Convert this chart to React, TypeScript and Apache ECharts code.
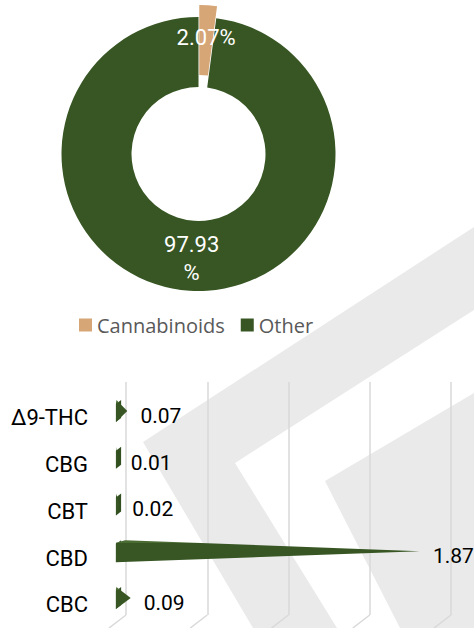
import React, { useEffect, useRef } from "react";
import * as echarts from "echarts";

const pieNames = ["Cannabinoids", "Other"];
const pieValues = [2.07, 97.93];
const pieColors = ["#d6a676", "#375623"];

const categories = ["Δ9-THC", "CBG", "CBT", "CBD", "CBC"];
const values = [0.07, 0.01, 0.02, 1.87, 0.09];

const axisMin = 0;
const axisMax = 2;
const axisInterval = 0.5;

export default function App() {
  const ref = useRef<HTMLDivElement>(null);

  useEffect(() => {
    document.body.style.margin = "0";
    if (!ref.current) return;
    const chart = echarts.init(ref.current, undefined, { renderer: "svg" });
    const green = "#375623";
    const option: any = {
      animation: false,
      backgroundColor: "#ffffff",
      graphic: [
        {
          id: "wm1",
          type: "polygon",
          z: -10,
          silent: true,
          shape: {
            points: [
              [143, 442],
              [474, 227],
              [474, 310],
              [235, 463],
              [337, 628],
              [253, 628],
            ],
          },
          style: { fill: "#eaeaea" },
        },
        {
          id: "wm2",
          type: "polygon",
          z: -10,
          silent: true,
          shape: {
            points: [
              [325, 481],
              [474, 393],
              [474, 628],
              [400, 628],
            ],
          },
          style: { fill: "#eaeaea" },
        },
      ],
      legend: {
        data: pieNames,
        left: 74,
        top: 310,
        icon: "rect",
        itemWidth: 13,
        itemHeight: 13,
        itemGap: 16,
        textStyle: { fontFamily: "Open Sans", fontSize: 20, color: "#595959" },
        selectedMode: false,
      },
      grid: [
        { left: 126, top: 382, width: 325, height: 233 },
        { left: 116, top: 387.6, width: 325, height: 233.75 },
      ],
      xAxis: [
        {
          type: "value",
          gridIndex: 0,
          min: axisMin,
          max: axisMax,
          interval: axisInterval,
          axisLabel: { show: false },
          axisLine: { show: false },
          axisTick: { show: false },
          splitLine: { show: true, lineStyle: { color: "#d9d9d9", width: 1.5 } },
        },
        {
          type: "value",
          gridIndex: 1,
          min: axisMin,
          max: axisMax,
          interval: axisInterval,
          axisLabel: { show: false },
          axisLine: { show: false },
          axisTick: { show: false },
          splitLine: { show: false },
        },
      ],
      yAxis: [
        {
          type: "category",
          gridIndex: 0,
          data: categories,
          inverse: true,
          show: false,
        },
        {
          type: "category",
          gridIndex: 1,
          data: categories,
          inverse: true,
          axisLine: { show: false },
          axisTick: { show: false },
          axisLabel: {
            margin: 28,
            verticalAlign: "top",
            lineHeight: 14,
            fontFamily: "Roboto",
            fontSize: 22,
            fontWeight: "normal",
            color: "#000000",
          },
        },
      ],
      series: [
        {
          type: "pie",
          center: [198.5, 154],
          radius: [67, 137],
          startAngle: 90,
          clockwise: true,
          selectedMode: "single",
          selectedOffset: 12,
          avoidLabelOverlap: false,
          label: {
            show: true,
            position: "inside",
            formatter: "{c}%",
            color: "#ffffff",
            fontFamily: "Roboto",
            fontSize: 22,
            lineHeight: 28,
            width: 64,
            overflow: "break",
          },
          labelLine: { show: false },
          itemStyle: { borderWidth: 0 },
          emphasis: { disabled: true },
          data: pieNames.map((n, i) => ({
            name: n,
            value: pieValues[i],
            selected: i === 0,
            itemStyle: { color: pieColors[i] },
          })),
        },
        {
          type: "pictorialBar",
          xAxisIndex: 1,
          yAxisIndex: 1,
          symbol: "path://M0,4 L5,0 L5,18 L0,22 Z",
          symbolSize: [5, 22],
          symbolPosition: "start",
          itemStyle: { color: "#324f20" },
          silent: true,
          data: values,
          z: 3,
        },
        {
          type: "pictorialBar",
          xAxisIndex: 1,
          yAxisIndex: 1,
          symbol: "path://M0,12 L3,0 L100,50 L0,100 Z",
          symbolSize: ["100%", 22],
          symbolPosition: "start",
          itemStyle: {
            color: new echarts.graphic.LinearGradient(0, 0, 0, 1, [
              { offset: 0, color: "#4a6c33" },
              { offset: 0.13, color: "#4a6c33" },
              { offset: 0.14, color: green },
              { offset: 1, color: green },
            ]),
          },
          label: {
            show: true,
            position: "right",
            distance: 13,
            offset: [0, 5],
            formatter: (p: any) => String(p.value),
            fontFamily: "Roboto",
            fontSize: 21,
            fontWeight: "normal",
            color: "#000000",
          },
          data: values,
          z: 4,
        },
      ],
    };
    chart.setOption(option);

    const feet: any[] = [];
    for (let v = axisMin; v <= axisMax + 1e-9; v += axisInterval) {
      const x = chart.convertToPixel({ xAxisIndex: 0 }, v) as number;
      feet.push({
        id: "foot" + v,
        type: "line",
        silent: true,
        z: 1,
        shape: { x1: x, y1: 615, x2: x - 17, y2: 628 },
        style: { stroke: "#d9d9d9", lineWidth: 1.5 },
      });
    }
    chart.setOption({ graphic: feet });

    return () => chart.dispose();
  }, []);

  return <div ref={ref} style={{ width: 474, height: 628 }} />;
}
